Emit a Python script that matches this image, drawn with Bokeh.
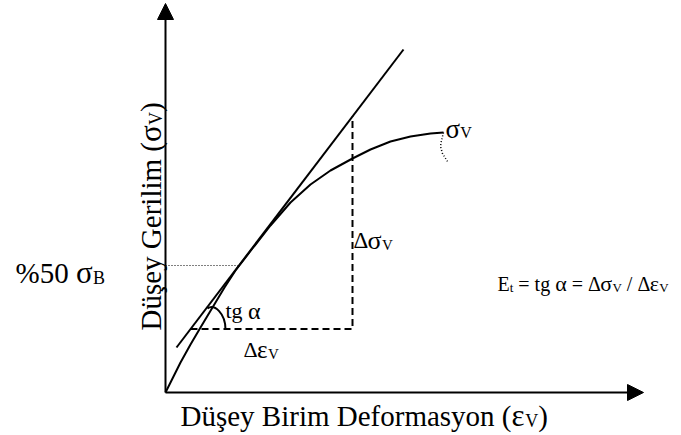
import math
from bokeh.plotting import figure
from bokeh.models import Range1d, Arrow, NormalHead
from bokeh.core.properties import value
from bokeh.embed import file_html
from bokeh.resources import INLINE

# Stress–strain curve (strain, stress) in drawing units, origin at the axes corner
strain = [0, 7, 15, 25, 35, 47, 59, 70, 85, 105, 125, 145, 165, 187, 205, 225, 245, 265, 278]
stress = [0, 14, 30, 48, 65, 85, 105, 122, 141.5, 167, 190, 208, 222, 234, 243, 251, 256, 259, 260]

# Post-peak branch (dotted)
tail_strain = [278, 276, 275, 277, 282]
tail_stress = [260, 252, 246, 239, 231]

# Tangent line through the 50 % strength point
tan_strain = [11, 238]
tan_stress = [45, 343]

# 50 % strength level and where it meets the tangent
half_stress = 127
half_strain = 73

# Strain interval used for the Δε / Δσ construction
d_eps = [25, 187]

# Axis extents
x_axis_end = 478
y_axis_end = 389

FONT = "Liberation Serif"
NB = "\u00a0"
BASE_FIX = 5  # lifts glyphs so the given y is the alphabetic baseline
W = {'D': .722, 'ü': .5, 'ş': .389, 'e': .444, 'y': .5, NB: .25, 'B': .667, 'i': .278,
     'r': .333, 'm': .778, 'f': .333, 'o': .5, 'a': .444, 's': .389, 'n': .5, '(': .333,
     ')': .333, 'G': .722, 'l': .278, '%': .833, '5': .5, '0': .5, 't': .278, 'g': .5,
     '=': .564, '/': .278, 'E': .611, 'V': .722, 'Δ': .612, 'σ': .55, 'ε': .44, 'α': .53}


def text_width(s, size):
    return sum(W.get(c, .5) for c in s) * size


def tangent(e):
    k = (tan_stress[1] - tan_stress[0]) / (tan_strain[1] - tan_strain[0])
    return tan_stress[0] + k * (e - tan_strain[0])


p = figure(width=681, height=435, output_backend="svg", toolbar_location=None,
           x_range=Range1d(-165, 516), y_range=Range1d(-43, 392),
           min_border=0, background_fill_color="white", border_fill_color="white")
p.xaxis.visible = False
p.yaxis.visible = False
p.grid.visible = False
p.outline_line_color = None


def put(x, y, parts, angle=0.0):
    """Draw a run of text pieces (text, size_px, baseline shift) one after another."""
    for txt, size, shift in parts:
        txt = txt.replace(" ", NB)
        if angle == 0:
            px, py = x, y + shift + BASE_FIX
        else:
            px, py = x - shift - BASE_FIX, y
        p.text(x=[px], y=[py], text=[txt], angle=angle,
               text_font=value(FONT), text_font_size=f"{size}px",
               text_baseline="alphabetic", text_align="left", text_color="black")
        w = text_width(txt, size)
        if angle == 0:
            x += w
        else:
            y += w


# Axes with arrow heads
for xe, ye in [(x_axis_end, 0), (0, y_axis_end)]:
    p.add_layout(Arrow(end=NormalHead(size=16, fill_color="black", line_color="black", line_width=1),
                       x_start=0, y_start=0, x_end=xe, y_end=ye,
                       line_width=2, line_color="black"))

# Curve and its dotted post-peak branch
p.line(strain, stress, line_width=2, line_color="black", line_join="round")
p.line(tail_strain, tail_stress, line_width=1.5, line_color="black", line_dash="1 2")

# Tangent
p.line(tan_strain, tan_stress, line_width=2, line_color="black")

# 50 % strength level
p.line([0, half_strain], [half_stress, half_stress], line_width=1, line_color="black", line_dash="1 2")

# Δε (horizontal) and Δσ (vertical) legs
s0, s1 = tangent(d_eps[0]), tangent(d_eps[1])
p.line([d_eps[0], d_eps[1], d_eps[1]], [s0, s0, s1], line_width=2, line_color="black",
       line_dash="7 4")

# Angle arc between the tangent and the horizontal leg
p.bezier(x0=[42], y0=[84], x1=[60], y1=[63], cx0=[49], cy0=[89], cx1=[60], cy1=[79],
         line_width=2, line_color="black")

# Labels
put(15, -28, [("Düşey Birim Deformasyon (", 29, 0), ("ε", 31, 0), ("V", 18, -5), (")", 29, 0)])
put(-10, 62, [("Düşey Gerilim (", 29, 0), ("σ", 31, 0), ("V", 18, -5), (")", 29, 0)], angle=math.pi / 2)
put(-150, 115, [("%50 ", 29, 0), ("σ", 31, 0), ("B", 18, -5)])
put(280, 259, [("σ", 27, 0), ("V", 16, -4)])
put(188, 147, [("Δ", 23, 0), ("σ", 26, 0), ("V", 15, -4)])
put(78, 38, [("Δ", 22, 0), ("ε", 25, 0), ("V", 15, -4)])
put(60, 77, [("tg ", 22, 0), ("α", 24, 0)])
put(332, 104, [("E", 20, 0), ("t", 13, -4), (" = tg ", 20, 0), ("α", 22, 0), (" = Δ", 20, 0),
               ("σ", 22, 0), ("V", 13, -4), (" / Δ", 20, 0), ("ε", 22, 0), ("V", 13, -4)])

open("out.html", "w").write(file_html(p, INLINE))
